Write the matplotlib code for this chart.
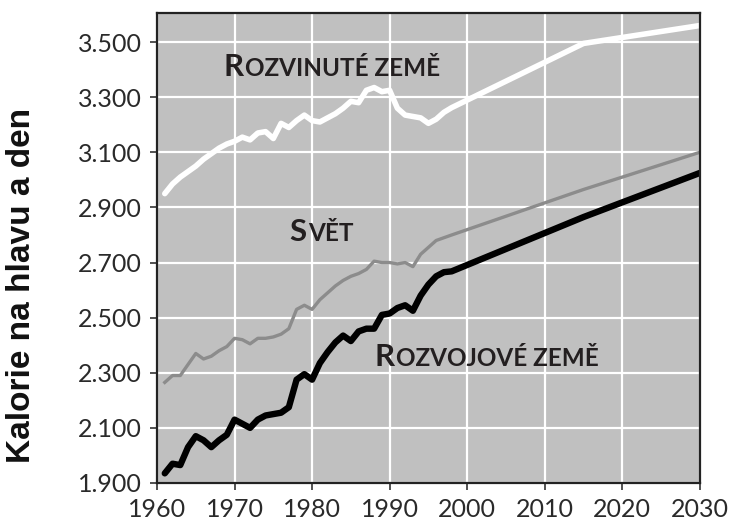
import matplotlib
matplotlib.use("Agg")
from matplotlib import pyplot as plt
from matplotlib.offsetbox import TextArea, HPacker, AnnotationBbox
from matplotlib.ticker import FuncFormatter

hist_years = list(range(1961, 1999))
proj_years = [2015, 2030]

developed_hist = [2950, 2985, 3010, 3030, 3050, 3075, 3095, 3115, 3130, 3140,
                  3155, 3145, 3170, 3175, 3150, 3205, 3190, 3215, 3235, 3215,
                  3210, 3225, 3240, 3260, 3285, 3280, 3325, 3335, 3320, 3325,
                  3260, 3235, 3230, 3225, 3205, 3220, 3245, 3262]
developed_proj = [3495, 3560]

world_hist = [2265, 2290, 2290, 2330, 2370, 2350, 2360, 2380, 2395, 2425,
              2420, 2405, 2425, 2425, 2430, 2440, 2460, 2530, 2545, 2530,
              2565, 2590, 2615, 2635, 2650, 2660, 2675, 2705, 2700, 2700,
              2695, 2700, 2685, 2730, 2755, 2780, 2790, 2800]
world_proj = [2965, 3100]

developing_hist = [1935, 1970, 1965, 2030, 2070, 2055, 2030, 2055, 2075, 2130,
                   2115, 2100, 2130, 2145, 2150, 2155, 2175, 2275, 2295, 2275,
                   2335, 2375, 2410, 2435, 2415, 2450, 2460, 2460, 2510, 2515,
                   2535, 2545, 2525, 2580, 2620, 2650, 2665, 2668]
developing_proj = [2865, 3025]

y_ticks = [1900, 2100, 2300, 2500, 2700, 2900, 3100, 3300, 3500]
x_ticks = [1960, 1970, 1980, 1990, 2000, 2010, 2020, 2030]

years = hist_years + proj_years

fig = plt.figure(figsize=(7.32, 5.25), dpi=100)
ax = fig.add_axes([0.2145, 0.08, 0.7415, 0.895])
ax.set_facecolor("#c0c0c0")

ax.grid(True, color="white", linewidth=1.6)
ax.set_axisbelow(True)

ax.plot(years, developed_hist + developed_proj, color="white", linewidth=4.0,
        solid_joinstyle="round", solid_capstyle="round")
ax.plot(years, world_hist + world_proj, color="#8c8c8c", linewidth=2.4,
        solid_joinstyle="round")
ax.plot(years, developing_hist + developing_proj, color="black", linewidth=4.6,
        solid_joinstyle="round", solid_capstyle="round")

ax.set_xlim(1960, 2030)
ax.set_ylim(1900, 3605)
ax.set_xticks(x_ticks)
ax.set_yticks(y_ticks)
ax.yaxis.set_major_formatter(FuncFormatter(lambda v, p: f"{int(v):,}".replace(",", ".")))
ax.tick_params(labelsize=18, length=5, width=1.2, color="#333333",
               labelcolor="#2a2a2a", pad=6)
for lab in ax.get_xticklabels() + ax.get_yticklabels():
    lab.set_family("Lato")
for side in ["left", "bottom", "top", "right"]:
    ax.spines[side].set_linewidth(1.6)
    ax.spines[side].set_color("#222222")

ax.set_ylabel("Kalorie na hlavu a den", fontsize=24, fontweight="bold",
              family="Liberation Sans", color="#111111")
ax.yaxis.set_label_coords(-0.221, 0.421)


def small_caps(x, y, first, rest, big=22.5, small=17.5):
    props = dict(family="Lato", fontweight="bold", color="#231f20")
    box = HPacker(children=[TextArea(first, textprops=dict(size=big, **props)),
                            TextArea(rest, textprops=dict(size=small, **props))],
                  align="baseline", pad=0, sep=1)
    ab = AnnotationBbox(box, (x, y), frameon=False, box_alignment=(0.5, 0.5))
    ax.add_artist(ab)


small_caps(1982.6, 3410, "R", "OZVINUTÉ ZEMĚ")
small_caps(1981.2, 2811, "S", "VĚT")
small_caps(2002.5, 2357, "R", "OZVOJOVÉ ZEMĚ")

plt.savefig("out.png", dpi=100)
